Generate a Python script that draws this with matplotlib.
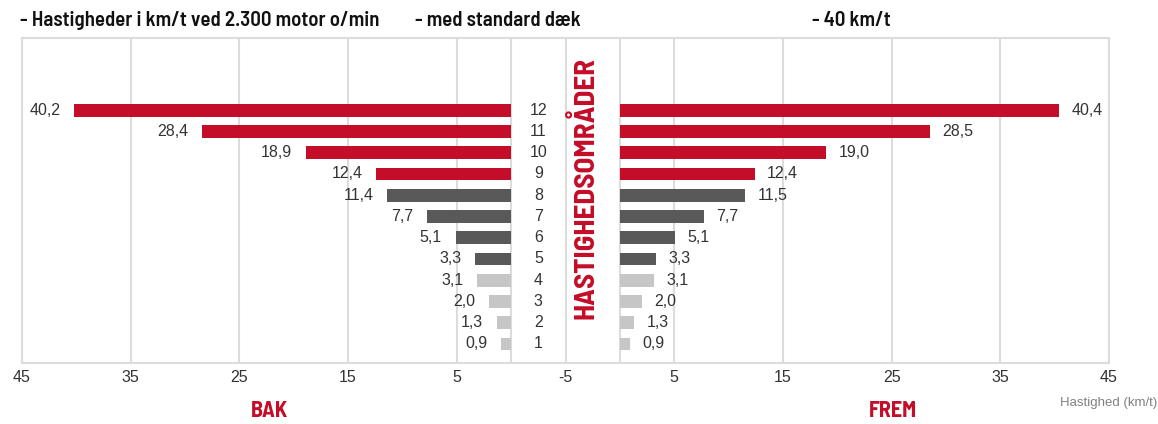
import matplotlib
matplotlib.use("Agg")
import matplotlib.pyplot as plt

# ---- data ----
gears = [1, 2, 3, 4, 5, 6, 7, 8, 9, 10, 11, 12]
bak = [0.9, 1.3, 2.0, 3.1, 3.3, 5.1, 7.7, 11.4, 12.4, 18.9, 28.4, 40.2]
frem = [0.9, 1.3, 2.0, 3.1, 3.3, 5.1, 7.7, 11.5, 12.4, 19.0, 28.5, 40.4]
tick_labels = ["45", "35", "25", "15", "5", "-5", "5", "15", "25", "35", "45"]
titles = ["- Hastigheder i km/t ved 2.300 motor o/min", "- med standard dæk", "- 40 km/t"]
center_title = "HASTIGHEDSOMRÅDER"
side_labels = ["BAK", "FREM"]
axis_label = "Hastighed (km/t)"

RED = "#C40D28"
DARK = "#595959"
LIGHT = "#C6C6C6"
GRID = "#DCDCDC"
GAP = 10  # width of the central gap in axis units


def colour(g):
    if g >= 9:
        return RED
    if g >= 5:
        return DARK
    return LIGHT


def fmt(v):
    return f"{v:.1f}".replace(".", ",")


cond = ["Barlow Semi Condensed", "Barlow Condensed", "DejaVu Sans"]
body = ["Liberation Sans", "DejaVu Sans"]

W, H = 1158, 424
fig = plt.figure(figsize=(W / 100, H / 100), dpi=100)
ax = fig.add_axes([22 / W, (H - 363) / H, (1109 - 22) / W, (363 - 38) / H])

ax.set_xlim(-45, 55)
ax.set_ylim(0.1, 15.4)

cols = [colour(g) for g in gears]
ax.barh(gears, [-v for v in bak], left=0, height=0.6, color=cols, zorder=3)
ax.barh(gears, frem, left=GAP, height=0.6, color=cols, zorder=3)

for g, v in zip(gears, bak):
    ax.annotate(fmt(v), (-v, g), xytext=(-10, 0), textcoords="offset points",
                ha="right", va="center", fontsize=11.5, color="#333333", family=body)
for g, v in zip(gears, frem):
    ax.annotate(fmt(v), (GAP + v, g), xytext=(9, 0), textcoords="offset points",
                ha="left", va="center", fontsize=11.5, color="#333333", family=body)
for g in gears:
    ax.text(2.5, g, str(g), ha="center", va="center", fontsize=11.5,
            color="#333333", family=body)

ax.text(6.7, 8.35, center_title, rotation=90, ha="center", va="center",
        fontsize=21, fontweight="bold", color=RED, family=cond)

ticks = [-45, -35, -25, -15, -5, 5, 15, 25, 35, 45, 55]
ax.set_xticks(ticks)
ax.set_xticklabels(tick_labels, fontsize=11.5, color="#333333", family=body)
ax.tick_params(axis="x", length=0, pad=5)
ax.set_yticks([])
for t in ticks:
    ax.axvline(t, color=GRID, lw=1.5, zorder=1)
ax.axvline(0, color=GRID, lw=1.5, zorder=1)
ax.axvline(GAP, color=GRID, lw=1.5, zorder=1)
for s in ax.spines.values():
    s.set_color(GRID)
    s.set_linewidth(1.5)

# titles
for x0, t in zip([20, 415, 812], titles):
    fig.text(x0 / W, 1 - 20 / H, t, ha="left", va="center", fontsize=15,
             fontweight="semibold", color="#111111", family=cond)

fig.text(270 / W, 1 - 411 / H, side_labels[0], ha="center", va="center", fontsize=16,
         fontweight="bold", color=RED, family=cond)
fig.text(893 / W, 1 - 411 / H, side_labels[1], ha="center", va="center", fontsize=16,
         fontweight="bold", color=RED, family=cond)
fig.text(1157 / W, 1 - 403 / H, axis_label, ha="right", va="center", fontsize=9.5,
         color="#808080", family=body)

fig.savefig("out.png", dpi=100, facecolor="white")
